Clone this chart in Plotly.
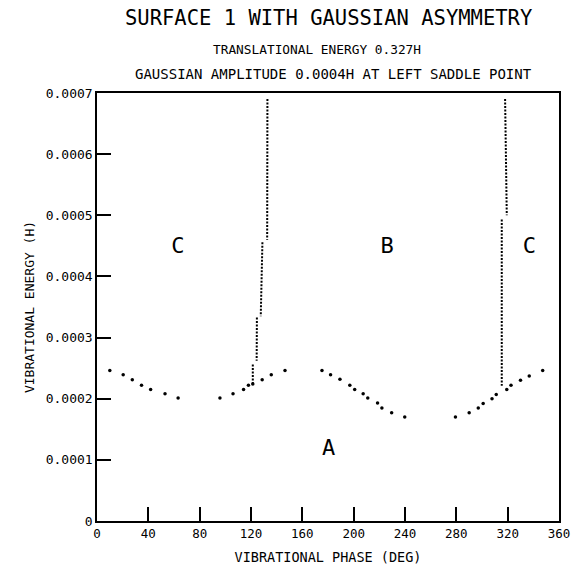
import plotly.graph_objects as go

# Lower dotted curve (vibrational phase in degrees, energy in hartree)
phase_lower = [10, 20.4, 27.5, 34.7, 41.8, 53, 63.2, 95.8, 106, 114.2, 118, 121.4,
               128.7, 135.8, 146.5, 175.3, 182, 189.3, 197, 200.8, 207.4, 211,
               218.6, 222, 229.6, 239.8, 279.3, 290, 297.1, 300.9, 307.8, 311.1,
               319.3, 322.6, 330, 336.8, 347.3]
energy_lower = [2.46e-4, 2.39e-4, 2.31e-4, 2.22e-4, 2.15e-4, 2.08e-4, 2.01e-4,
                2.01e-4, 2.08e-4, 2.15e-4, 2.22e-4, 2.24e-4, 2.31e-4, 2.39e-4,
                2.46e-4, 2.46e-4, 2.39e-4, 2.32e-4, 2.22e-4, 2.15e-4, 2.08e-4,
                2.01e-4, 1.93e-4, 1.85e-4, 1.77e-4, 1.70e-4, 1.70e-4, 1.77e-4,
                1.85e-4, 1.92e-4, 2.00e-4, 2.07e-4, 2.15e-4, 2.22e-4, 2.30e-4,
                2.37e-4, 2.46e-4]

# Left boundary (C/B) dotted segments
left_phase = [132.8, 132.7, 132.6, None, 128.9, 128.2, 127.6, None, 124.6, 124.4, None, 121.4, 121.4]
left_energy = [6.9e-4, 5.8e-4, 4.6e-4, None, 4.56e-4, 3.9e-4, 3.35e-4, None, 3.33e-4, 2.62e-4, None, 2.56e-4, 2.24e-4]

# Right boundary (B/C) dotted segments
right_phase = [318.0, 318.6, 319.3, None, 315.4, 315.4]
right_energy = [6.9e-4, 5.9e-4, 5.0e-4, None, 4.93e-4, 2.21e-4]

# Region labels
region_labels = ["C", "B", "C", "A"]
region_phase = [63, 226, 337, 180.5]
region_energy = [4.48e-4, 4.48e-4, 4.48e-4, 1.17e-4]

x_ticks = [0, 40, 80, 120, 160, 200, 240, 280, 320, 360]
y_ticks = [0, 0.0001, 0.0002, 0.0003, 0.0004, 0.0005, 0.0006, 0.0007]
y_tick_text = ["0", "0.0001", "0.0002", "0.0003", "0.0004", "0.0005", "0.0006", "0.0007"]

FONT = "DejaVu Sans Mono, Liberation Mono, monospace"

fig = go.Figure()
fig.add_trace(go.Scatter(x=phase_lower, y=energy_lower, mode="markers",
                         marker=dict(color="black", size=3.5), showlegend=False))
fig.add_trace(go.Scatter(x=left_phase, y=left_energy, mode="lines",
                         line=dict(color="black", width=2, dash="2px,1.5px"),
                         connectgaps=False, showlegend=False))
fig.add_trace(go.Scatter(x=right_phase, y=right_energy, mode="lines",
                         line=dict(color="black", width=2, dash="2px,1.5px"),
                         connectgaps=False, showlegend=False))
fig.add_trace(go.Scatter(x=region_phase, y=region_energy, mode="text",
                         text=region_labels,
                         textfont=dict(family=FONT, size=22, color="black"),
                         showlegend=False))

fig.update_layout(
    width=582, height=575,
    margin=dict(l=97, r=14, t=93, b=51),
    paper_bgcolor="white", plot_bgcolor="white",
    font=dict(family=FONT, color="black", size=12),
    annotations=[
        dict(text="SURFACE 1 WITH GAUSSIAN ASYMMETRY", x=0.5, y=1, xref="x domain",
             yref="paper", yshift=75, showarrow=False, yanchor="middle",
             font=dict(size=20.5, family=FONT)),
        dict(text="TRANSLATIONAL ENERGY 0.327H", x=88.5, y=1, xref="x",
             xanchor="left", yref="paper", yshift=44, showarrow=False,
             yanchor="middle", font=dict(size=12.8, family=FONT)),
        dict(text="GAUSSIAN AMPLITUDE 0.0004H AT LEFT SADDLE POINT", x=28.0, y=1,
             xref="x", xanchor="left", yref="paper", yshift=19, showarrow=False,
             yanchor="middle", font=dict(size=14, family=FONT)),
    ],
    xaxis=dict(range=[0, 360], tickvals=x_ticks, ticks="inside", ticklen=14,
               tickwidth=1.5, tickcolor="black", showgrid=False, zeroline=False,
               showline=True, linecolor="black", linewidth=1.5, mirror=True,
               tickfont=dict(size=12.5, family=FONT),
               title=dict(text="VIBRATIONAL PHASE (DEG)", font=dict(size=13.5, family=FONT),
                          standoff=13)),
    yaxis=dict(range=[0, 0.0007], tickvals=y_ticks, ticktext=y_tick_text,
               ticks="inside", ticklen=14, tickwidth=1.5, tickcolor="black",
               showgrid=False, zeroline=False, showline=True, linecolor="black",
               linewidth=1.5, mirror=True, tickfont=dict(size=13, family=FONT),
               title=dict(text="VIBRATIONAL ENERGY (H)", font=dict(size=13, family=FONT),
                          standoff=8)),
)

fig.write_html("out.html")
